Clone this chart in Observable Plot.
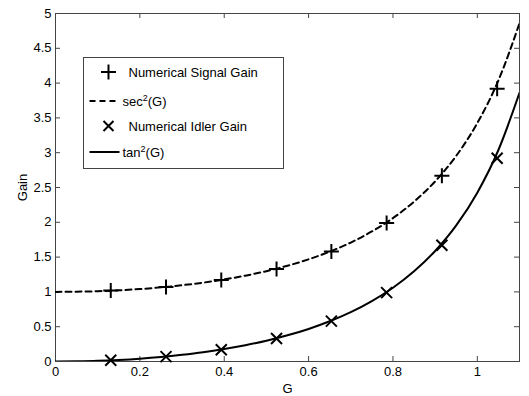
<!DOCTYPE html>
<html>
<head>
<meta charset="utf-8">
<script src="https://cdn.jsdelivr.net/npm/d3@7"></script>
<script src="https://cdn.jsdelivr.net/npm/@observablehq/plot@0.6"></script>
<style>
  html, body { margin: 0; padding: 0; background: #fff; }
  #chart svg { display: block; }
</style>
</head>
<body>
<div id="chart"></div>
<script>
// Curve samples (G, value)
const curveG   = [0, 0.05, 0.1, 0.15, 0.2, 0.25, 0.3, 0.35, 0.4, 0.45, 0.5, 0.55, 0.6, 0.65, 0.7, 0.75, 0.8, 0.85, 0.9, 0.95, 1.0, 1.05, 1.1];
const secSq    = [1.000, 1.003, 1.010, 1.023, 1.041, 1.065, 1.096, 1.133, 1.179, 1.233, 1.298, 1.376, 1.468, 1.578, 1.709, 1.868, 2.060, 2.296, 2.588, 2.955, 3.426, 4.039, 4.860];
const tanSq    = [0.000, 0.003, 0.010, 0.023, 0.041, 0.065, 0.096, 0.133, 0.179, 0.233, 0.298, 0.376, 0.468, 0.578, 0.709, 0.868, 1.060, 1.296, 1.588, 1.955, 2.426, 3.039, 3.860];

// Numerical markers
const markerG     = [0.131, 0.262, 0.393, 0.524, 0.654, 0.785, 0.916, 1.047];
const signalGain  = [1.02, 1.07, 1.17, 1.33, 1.58, 1.99, 2.67, 3.92];
const idlerGain   = [0.017, 0.07, 0.17, 0.33, 0.58, 0.99, 1.67, 2.92];

const xTicks = [0, 0.2, 0.4, 0.6, 0.8, 1];
const yTicks = [0, 0.5, 1, 1.5, 2, 2.5, 3, 3.5, 4, 4.5, 5];

// Legend entries: [main text, superscript, tail]
const legendLabels = [["Numerical Signal Gain", "", ""], ["sec", "2", "(G)"], ["Numerical Idler Gain", "", ""], ["tan", "2", "(G)"]];

const curves = curveG.map((g, i) => ({g, sec: secSq[i], tan: tanSq[i]}));
const markers = markerG.map((g, i) => ({g, s: signalGain[i], id: idlerGain[i]}));

const plusSym = {
  draw(ctx, size) {
    const r = Math.sqrt(size / Math.PI);
    ctx.moveTo(-r, 0); ctx.lineTo(r, 0);
    ctx.moveTo(0, -r); ctx.lineTo(0, r);
  }
};
const timesSym = {
  draw(ctx, size) {
    const r = Math.sqrt(size / Math.PI);
    ctx.moveTo(-r, -r); ctx.lineTo(r, r);
    ctx.moveTo(-r, r); ctx.lineTo(r, -r);
  }
};

const W = 529, H = 396;
const mL = 55, mR = 10, mT = 13, mB = 35;
const innerH = H - mT - mB, innerW = W - mL - mR;
const tl = 5;
const font = "'Liberation Sans', Arial, Helvetica, sans-serif";

const fmt = d => String(d);

const chart = Plot.plot({
  width: W, height: H,
  marginLeft: mL, marginRight: mR, marginTop: mT, marginBottom: mB,
  style: {fontFamily: font, fontSize: "13px", color: "#000", background: "#fff"},
  x: {domain: [0, 1.1], ticks: xTicks, tickFormat: fmt, tickSize: 0, tickPadding: 5, label: "G", labelAnchor: "center", labelArrow: "none", labelOffset: 31},
  y: {domain: [0, 5], ticks: yTicks, tickFormat: fmt, tickSize: 0, tickPadding: 4, label: "Gain", labelAnchor: "center", labelArrow: "none", labelOffset: 38},
  marks: [
    Plot.frame({stroke: "#444", strokeWidth: 1}),
    Plot.tickX(xTicks, {x: d => d, insetTop: innerH - tl, stroke: "#444"}),
    Plot.tickX(xTicks, {x: d => d, insetBottom: innerH - tl, stroke: "#444"}),
    Plot.tickY(yTicks, {y: d => d, insetRight: innerW - tl, stroke: "#444"}),
    Plot.tickY(yTicks, {y: d => d, insetLeft: innerW - tl, stroke: "#444"}),
    Plot.line(curves, {x: "g", y: "sec", stroke: "#000", strokeWidth: 2, strokeDasharray: "6,4", curve: "monotone-x", clip: true}),
    Plot.line(curves, {x: "g", y: "tan", stroke: "#000", strokeWidth: 2, curve: "monotone-x", clip: true}),
    Plot.dot(markers, {x: "g", y: "s", symbol: plusSym, r: 7.5, fill: "none", stroke: "#000", strokeWidth: 2}),
    Plot.dot(markers, {x: "g", y: "id", symbol: timesSym, r: 5.5, fill: "none", stroke: "#000", strokeWidth: 2})
  ]
});

document.getElementById("chart").appendChild(chart);

// Legend box (inside plot, upper-left)
const svg = d3.select(chart);
const lg = svg.append("g").attr("font-family", font).attr("font-size", "13px").attr("text-anchor", "start");
const bx = 83.5, by = 57.5, bw = 200, bh = 111;
lg.append("rect").attr("x", bx).attr("y", by).attr("width", bw).attr("height", bh)
  .attr("fill", "#fff").attr("stroke", "#444").attr("stroke-width", 1);
const rowY = [72, 101, 126, 152];
const sx = bx + 6, ex = bx + 36, cx = bx + 25;
// row 0: plus
lg.append("path").attr("d", `M${cx-7.5},${rowY[0]}H${cx+7.5}M${cx},${rowY[0]-7.5}V${rowY[0]+7.5}`)
  .attr("stroke", "#000").attr("stroke-width", 2).attr("fill", "none");
// row 1: dashed
lg.append("line").attr("x1", sx).attr("x2", ex).attr("y1", rowY[1]).attr("y2", rowY[1])
  .attr("stroke", "#000").attr("stroke-width", 2).attr("stroke-dasharray", "6,4");
// row 2: times
lg.append("path").attr("d", `M${cx-5},${rowY[2]-5}L${cx+5},${rowY[2]+5}M${cx-5},${rowY[2]+5}L${cx+5},${rowY[2]-5}`)
  .attr("stroke", "#000").attr("stroke-width", 2).attr("fill", "none");
// row 3: solid
lg.append("line").attr("x1", sx).attr("x2", ex).attr("y1", rowY[3]).attr("y2", rowY[3])
  .attr("stroke", "#000").attr("stroke-width", 2);
legendLabels.forEach(([main, sup, tail], i) => {
  const tx = (i === 1 || i === 3) ? bx + 39 : bx + 45;
  const t = lg.append("text").attr("x", tx).attr("y", rowY[i]).attr("dy", "0.35em").attr("fill", "#000");
  t.append("tspan").text(main);
  if (sup) {
    t.append("tspan").attr("font-size", "9px").attr("dy", -5).text(sup);
    t.append("tspan").attr("dy", 5).text(tail);
  }
});
</script>
</body>
</html>
